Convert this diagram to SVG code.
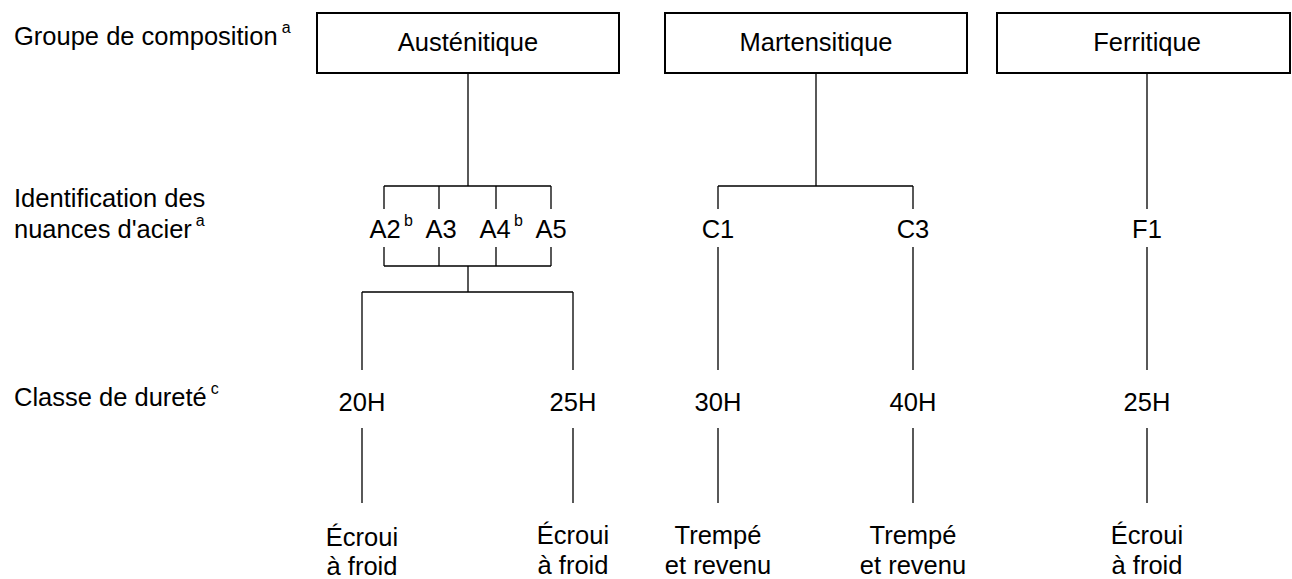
<svg xmlns="http://www.w3.org/2000/svg" width="1292" height="579" viewBox="0 0 1292 579">
<style>
text{font-family:"Liberation Sans",Arial,sans-serif;font-size:25.5px;fill:#000}
.m{text-anchor:middle}
.sup{font-size:16px}
.box{fill:#fff;stroke:#000;stroke-width:2}
.ln{stroke:#000;stroke-width:1.3;fill:none}
</style>
<rect width="1292" height="579" fill="#fff"/>
<g id="row-labels">
<text x="14" y="45">Groupe de composition<tspan class="sup" dx="4" dy="-12">a</tspan></text>
<text x="14" y="207">Identification des</text>
<text x="14" y="238">nuances d'acier<tspan class="sup" dx="4" dy="-12">a</tspan></text>
<text x="14" y="406">Classe de dureté<tspan class="sup" dx="4" dy="-12">c</tspan></text>
</g>
<g id="connectors">
<path class="ln" d="M468 73V186M384 186H551M384 186V209M439 186V209M496 186V209M551 186V209M384 247V266M439 247V266M496 247V266M551 247V266M384 266H551M468 266V292M362 292H573M362 292V370M573 292V370"/>
<path class="ln" d="M816 73V186M718 186H913M718 186V209M913 186V209M718 247V370M913 247V370"/>
<path class="ln" d="M1147 73V209M1147 247V370"/>
<path class="ln" d="M362 428V503M573 428V503M718 428V503M913 428V503M1147 428V503"/>
</g>
<g id="austenitique"><rect class="box" x="317" y="13" width="302" height="60"/><text class="m" x="468" y="51">Austénitique</text></g>
<g id="martensitique"><rect class="box" x="665" y="13" width="302" height="60"/><text class="m" x="816" y="51">Martensitique</text></g>
<g id="ferritique"><rect class="box" x="997" y="13" width="293" height="60"/><text class="m" x="1147" y="51">Ferritique</text></g>
<g id="A2"><text class="m" x="385" y="238">A2</text><text class="sup" x="404" y="226">b</text></g>
<g id="A3"><text class="m" x="441" y="238">A3</text></g>
<g id="A4"><text class="m" x="495" y="238">A4</text><text class="sup" x="514" y="226">b</text></g>
<g id="A5"><text class="m" x="551" y="238">A5</text></g>
<g id="C1"><text class="m" x="718" y="238">C1</text></g>
<g id="C3"><text class="m" x="913" y="238">C3</text></g>
<g id="F1"><text class="m" x="1147" y="238">F1</text></g>
<g id="h20"><text class="m" x="362" y="411">20H</text></g>
<g id="h25a"><text class="m" x="573" y="411">25H</text></g>
<g id="h30"><text class="m" x="718" y="411">30H</text></g>
<g id="h40"><text class="m" x="913" y="411">40H</text></g>
<g id="h25f"><text class="m" x="1147" y="411">25H</text></g>
<g id="t1"><text class="m" x="362" y="546">Écroui</text><text class="m" x="362" y="575">à froid</text></g>
<g id="t2"><text class="m" x="573" y="544">Écroui</text><text class="m" x="573" y="574">à froid</text></g>
<g id="t3"><text class="m" x="718" y="544">Trempé</text><text class="m" x="718" y="574">et revenu</text></g>
<g id="t4"><text class="m" x="913" y="544">Trempé</text><text class="m" x="913" y="574">et revenu</text></g>
<g id="t5"><text class="m" x="1147" y="544">Écroui</text><text class="m" x="1147" y="574">à froid</text></g>
</svg>
